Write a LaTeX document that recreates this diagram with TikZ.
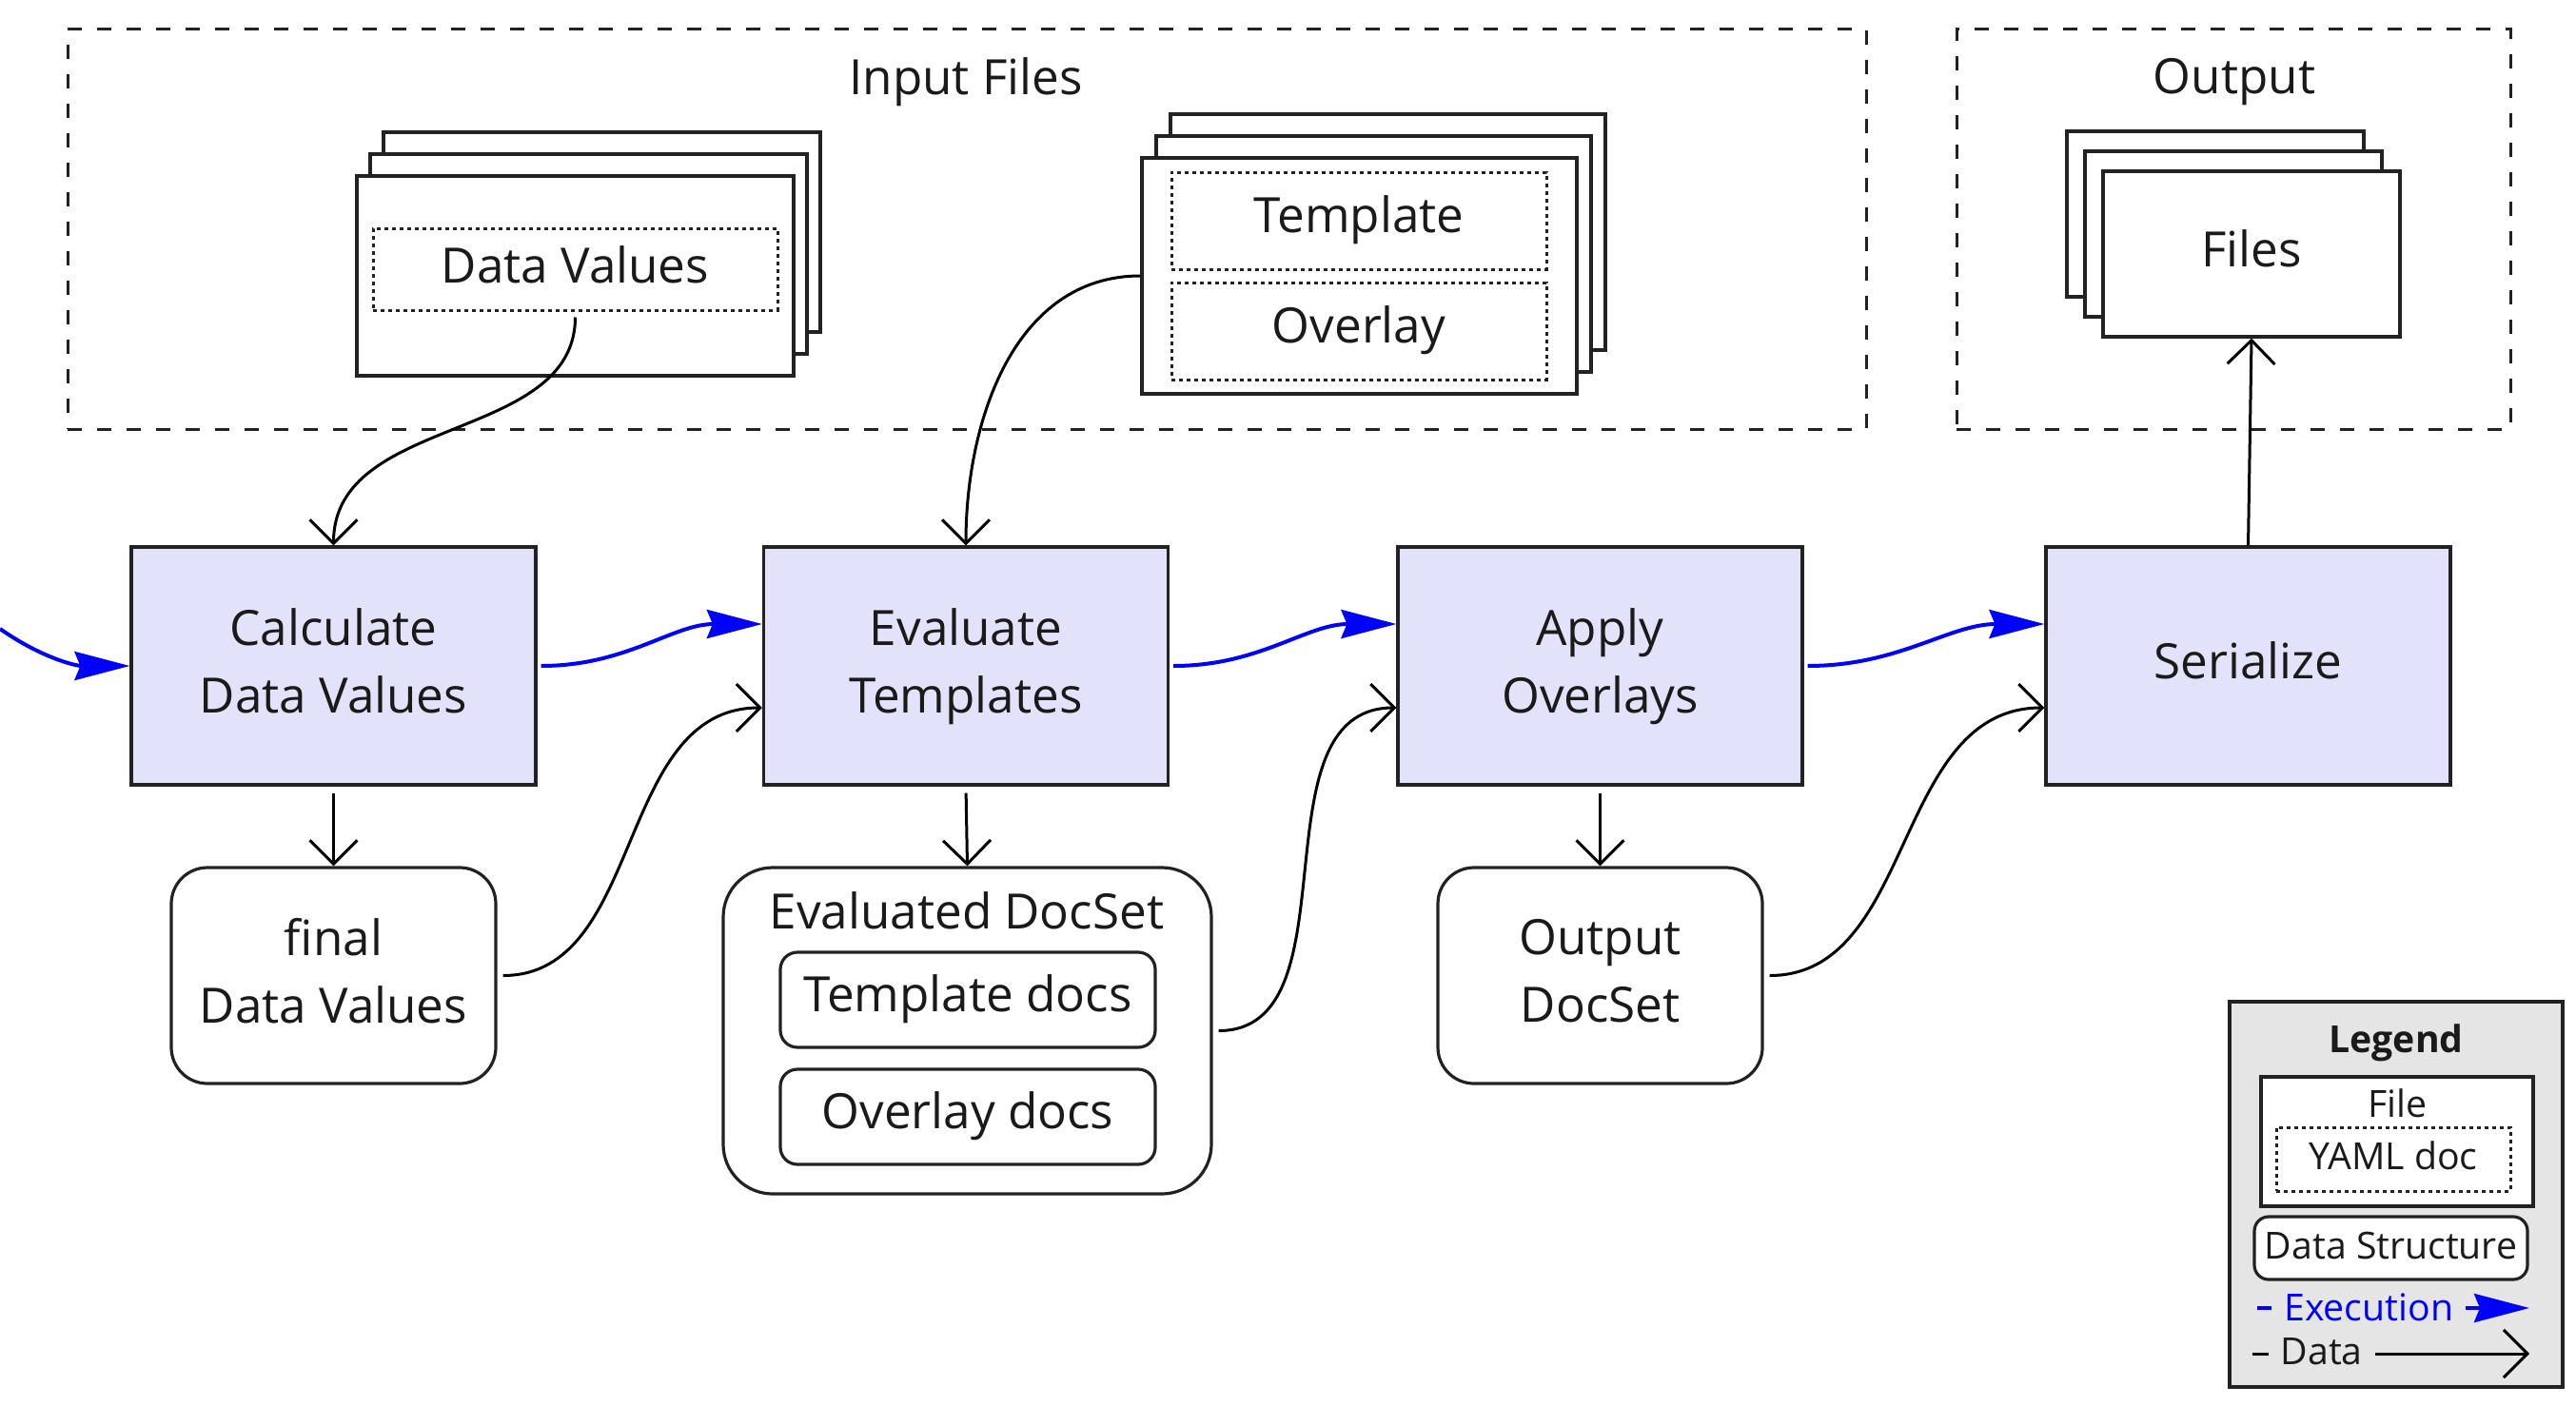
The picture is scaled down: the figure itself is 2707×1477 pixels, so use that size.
\documentclass[tikz,border=0pt]{standalone}
\usepackage{fontspec}
\setmainfont{Open Sans}
\usetikzlibrary{arrows.meta}
\definecolor{procfill}{RGB}{226,226,250}
\definecolor{bord}{RGB}{34,34,34}
\definecolor{leggray}{RGB}{229,229,229}
\definecolor{txt}{RGB}{26,26,26}
\begin{document}
\begin{tikzpicture}[x=0.5pt,y=-0.5pt,
  every node/.style={font=\fontsize{25.6}{35.5}\selectfont, text=txt},
  lg/.style={font=\fontsize{19.6}{23}\selectfont},
  proc/.style={draw=bord, line width=1.6pt, fill=procfill, minimum width=212.5pt, minimum height=125pt, align=center, inner sep=0pt, text depth=5.5pt},
  filebox/.style={draw=bord, line width=1.6pt, fill=white, inner sep=0pt, align=center, text depth=5.5pt},
  docbox/.style={draw=bord, line width=1.5pt, dash pattern=on 2pt off 2pt, inner sep=0pt, text depth=5pt},
  dstruct/.style={draw=bord, line width=1.6pt, fill=white, rounded corners=#1, inner sep=0pt, align=center, text depth=5.5pt},
  dstruct/.default=19pt,
  group/.style={draw=bord, line width=1.5pt, dash pattern=on 7.5pt off 8pt, inner sep=0pt},
  exec/.style={draw=blue, line width=2pt, -{Stealth[length=29pt,width=15pt,inset=3pt]}},
  data/.style={draw=black, line width=1.5pt, -{Straight Barb[length=12.5pt,width=25pt]}}]
\path[use as bounding box] (0,0) rectangle (2707,1477);

% groups
\node[group, minimum width=945pt, minimum height=210pt] (inbox) at (1016,241) {};
\node (inlabel) at (1015,86) {Input Files};
\node[group, minimum width=291pt, minimum height=210pt] (outbox) at (2347,241) {};
\node (outlabel) at (2348,86) {Output};

% Data Values file stack
\node[filebox, minimum width=229.5pt, minimum height=105pt] (dv3) at (632.5,244) {};
\node[filebox, minimum width=229.5pt, minimum height=105pt] (dv2) at (618.5,267) {};
\node[filebox, minimum width=229.5pt, minimum height=105pt] (dv1) at (604.5,290) {};
\node[docbox, minimum width=212.5pt, minimum height=43pt] (dvdoc) at (604.5,283) {Data Values};

% Template / Overlay file stack
\node[filebox, minimum width=228.5pt, minimum height=124pt] (tf3) at (1458.5,244) {};
\node[filebox, minimum width=228.5pt, minimum height=124pt] (tf2) at (1443.5,267) {};
\node[filebox, minimum width=228.5pt, minimum height=124pt] (tf1) at (1428.5,290) {};
\node[docbox, minimum width=197pt, minimum height=51pt, text depth=7pt] (tdoc) at (1428,232) {Template};
\node[docbox, minimum width=197pt, minimum height=51pt, text depth=7pt] (odoc) at (1428,348) {Overlay};

% Output files stack
\node[filebox, minimum width=156pt, minimum height=87pt] (of3) at (2328,225) {};
\node[filebox, minimum width=156pt, minimum height=87pt] (of2) at (2347,246) {};
\node[filebox, minimum width=156pt, minimum height=87pt] (of1) at (2366,267) {Files};

% processes
\node[proc] (calc) at (350.5,700) {Calculate\\Data Values};
\node[proc] (eval) at (1015,700) {Evaluate\\Templates};
\node[proc] (apply) at (1681.5,700) {Apply\\Overlays};
\node[proc] (ser) at (2362.5,700) {Serialize};

% data structures
\node[dstruct, minimum width=170.5pt, minimum height=113.5pt] (final) at (350.5,1025.5) {final\\Data Values};
\node[dstruct=26pt, minimum width=256.5pt, minimum height=171.5pt] (evds) at (1016.5,1083.5) {};
\node (evlabel) at (1016,957) {Evaluated DocSet};
\node[dstruct=9pt, minimum width=197pt, minimum height=50pt, text depth=6.5pt] (tdocs) at (1017,1051) {Template docs};
\node[dstruct=9pt, minimum width=197pt, minimum height=50pt, text depth=6.5pt] (odocs) at (1017,1174) {Overlay docs};
\node[dstruct, minimum width=170.5pt, minimum height=113.5pt] (outds) at (1681.5,1025.5) {Output\\DocSet};

% execution flow
\coordinate (start) at (0,661);
\draw[exec] (start) to[out=-35,in=180] (calc.west);
\draw[exec, shorten <=2pt] (calc.east) to[out=0,in=180] ([yshift=22pt]eval.west);
\draw[exec, shorten <=2pt] (eval.east) to[out=0,in=180] ([yshift=22pt]apply.west);
\draw[exec, shorten <=2pt] (apply.east) to[out=0,in=180] ([yshift=22pt]ser.west);

% data flow
\draw[data, shorten <=3pt] (dvdoc.south) to[out=-90,in=90] (calc.north);
\draw[data] (tf1.west) to[out=180,in=90] (eval.north);
\draw[data, shorten <=3.5pt] (calc.south) -- (final.north);
\draw[data, shorten <=3.5pt] (eval.south) -- (evds.north);
\draw[data, shorten <=3.5pt] (apply.south) -- (outds.north);
\draw[data, shorten <=3pt] (final.east) to[out=0,in=180] ([yshift=-22pt]eval.west);
\draw[data, shorten <=3pt] (evds.east) to[out=0,in=180] ([yshift=-22pt]apply.west);
\draw[data, shorten <=3pt] (outds.east) to[out=0,in=180] ([yshift=-22pt]ser.west);
\draw[data] (ser.north) -- (of1.south);

% legend
\node[draw=bord, line width=1.6pt, fill=leggray, minimum width=175pt, minimum height=202.5pt] (legend) at (2518,1255.5) {};
\node[font=\fontsize{19.6}{23}\selectfont\bfseries] (legtitle) at (2518,1096) {Legend};
\node[filebox, minimum width=143pt, minimum height=68pt] (legfile) at (2519,1200) {};
\node[lg] (legfiletxt) at (2519,1160) {File};
\node[docbox, lg, minimum width=123pt, minimum height=33.5pt, text depth=4pt] (legdoc) at (2515,1218.5) {YAML doc};
\node[dstruct=7.5pt, lg, minimum width=143.5pt, minimum height=33pt, text depth=2.5pt] (legds) at (2512.5,1312) {Data Structure};
\coordinate (lex1) at (2372,1375);
\coordinate (lex2) at (2658,1375);
\draw[exec] (lex1) -- node[pos=0.41, fill=leggray, lg, text=blue, inner xsep=6.5pt, inner ysep=2pt, text depth=1pt] (legexec) {Execution} (lex2);
\coordinate (lda1) at (2367,1423);
\coordinate (lda2) at (2658,1423);
\draw[data] (lda1) -- node[pos=0.25, fill=leggray, lg, inner xsep=6.5pt, inner ysep=2pt, text depth=3pt] (legdata) {Data} (lda2);
\end{tikzpicture}
\end{document}
